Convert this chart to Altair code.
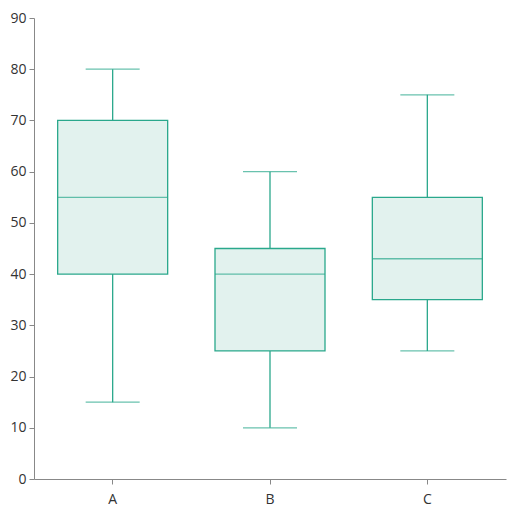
"""Box plot of three groups"""

import altair as alt
import pandas as pd

categories = ["A", "B", "C"]
mins = [15, 10, 25]
q1s = [40, 25, 35]
medians = [55, 40, 43]
q3s = [70, 45, 55]
maxs = [80, 60, 75]

STROKE = "#2aa88c"
FILL = "#e2f2ee"
FONT = "Open Sans"

df = pd.DataFrame({
    "cat": categories, "min": mins, "q1": q1s,
    "median": medians, "q3": q3s, "max": maxs,
})

x = alt.X("cat:N", title=None, sort=categories,
          scale=alt.Scale(paddingInner=0, paddingOuter=0),
          axis=alt.Axis(labelAngle=0, labelPadding=8, tickSize=5))
y_scale = alt.Scale(domain=[0, 90])
y_axis = alt.Axis(values=list(range(0, 91, 10)), grid=False, tickSize=5, labelPadding=3)

base = alt.Chart(df).encode(x=x)

whisker_lo = base.mark_rule(color=STROKE, strokeWidth=1.3).encode(
    y=alt.Y("min:Q", scale=y_scale, axis=y_axis, title=None), y2="q1:Q")
whisker_hi = base.mark_rule(color=STROKE, strokeWidth=1.3).encode(
    y=alt.Y("q3:Q"), y2="max:Q")
box = base.mark_bar(fill=FILL, stroke=STROKE, strokeWidth=1.3, size=110).encode(
    y=alt.Y("q1:Q"), y2="q3:Q")
median = base.mark_tick(color=STROKE, thickness=1.3, size=110).encode(y="median:Q")
cap_lo = base.mark_tick(color=STROKE, thickness=1.3, size=54).encode(y="min:Q")
cap_hi = base.mark_tick(color=STROKE, thickness=1.3, size=54).encode(y="max:Q")

chart = (whisker_lo + whisker_hi + box + median + cap_lo + cap_hi).properties(
    width=472, height=461,
    autosize=alt.AutoSizeParams(type="none"),
    padding={"left": 26, "top": 10, "right": 10, "bottom": 30},
).configure_axis(
    domainColor="#888888", tickColor="#888888", labelColor="#333333",
    labelFont=FONT, labelFontSize=14,
).configure_view(stroke=None)

chart.save("out.html", embed_options={"renderer": "svg", "actions": False})
